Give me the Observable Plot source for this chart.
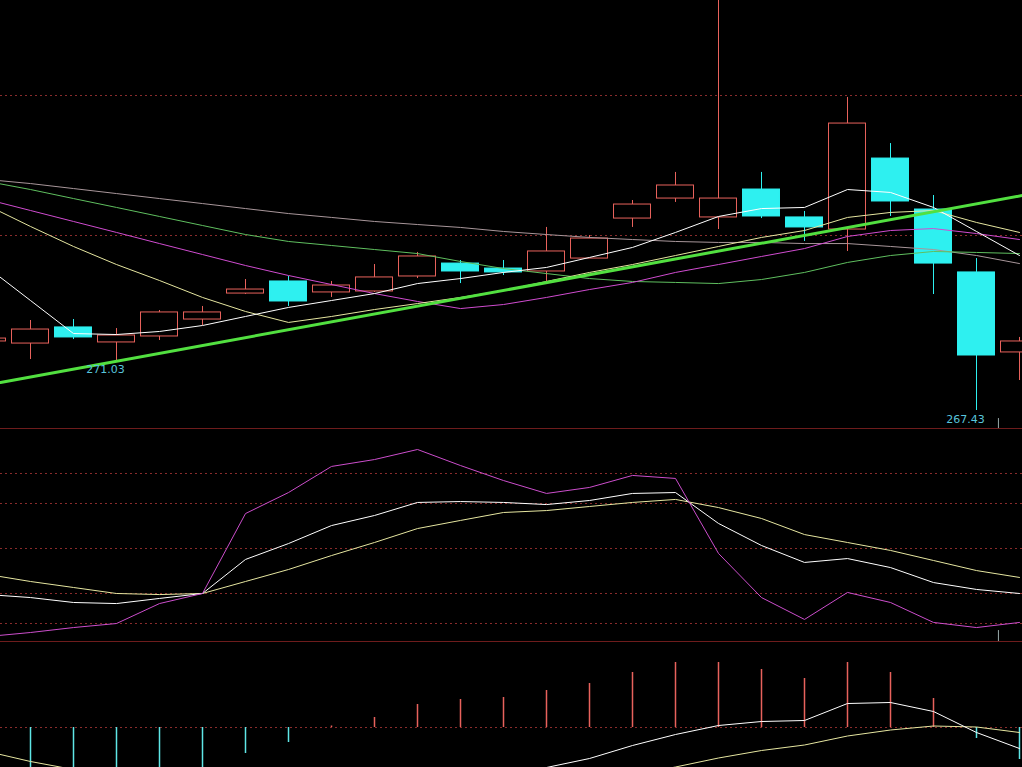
<!DOCTYPE html>
<html><head><meta charset="utf-8">
<script src="https://cdn.jsdelivr.net/npm/d3@7"></script>
<script src="https://cdn.jsdelivr.net/npm/@observablehq/plot@0.6"></script>
<style>
html,body{margin:0;padding:0;background:#000;overflow:hidden;}
#chart svg{display:block;overflow:hidden;}
#chart .sep{border-bottom:1px solid #6e1c1c;}
</style></head><body><div id="chart"></div>
<script>
// ---- data (one entry per trading day, index 0..24) ----
const dayIndex = [0,1,2,3,4,5,6,7,8,9,10,11,12,13,14,15,16,17,18,19,20,21,22,23,24];
const openP  = [272.40,272.25,273.41,272.33,272.76,273.98,275.85,276.72,275.93,276.00,277.08,278.01,277.65,277.44,278.37,281.25,282.69,281.33,283.34,281.33,280.46,285.57,281.90,277.37,271.61];
const highP  = [272.83,273.91,273.98,273.33,274.63,274.92,276.86,277.08,276.72,277.94,278.81,278.23,278.23,280.61,280.03,282.55,284.57,299.80,284.57,281.76,289.97,286.65,282.91,278.37,272.69];
const lowP   = [272.18,271.10,272.54,271.03,272.47,273.55,275.78,274.92,275.57,275.93,276.93,276.57,277.15,276.72,278.37,280.61,282.41,280.46,281.25,279.60,278.88,281.40,275.78,267.43,269.59];
const closeP = [272.61,273.26,272.69,272.83,274.49,274.49,276.14,275.28,276.43,277.01,278.52,277.44,277.37,278.88,279.81,282.26,283.63,282.69,281.40,280.61,288.09,282.48,278.01,271.39,272.40];

const ma5  = [277.73,275.35,272.97,272.90,273.12,273.55,274.20,274.85,275.35,275.85,276.57,276.93,277.37,277.73,278.45,279.17,280.25,281.40,281.97,282.05,283.34,283.13,282.05,280.32,278.59];
const ma10 = [282.19,280.68,279.24,277.94,276.79,275.57,274.56,273.77,274.20,274.70,275.13,275.57,276.07,276.72,277.37,277.94,278.59,279.24,279.89,280.39,281.33,281.69,281.83,280.97,280.25];
const ma20 = [282.62,281.83,281.04,280.25,279.45,278.66,277.87,277.15,276.50,275.85,275.28,274.77,275.06,275.57,276.14,276.65,277.37,277.94,278.52,279.09,279.96,280.39,280.53,280.17,279.74];
const ma30 = [283.92,283.34,282.69,282.05,281.40,280.75,280.10,279.60,279.31,279.02,278.73,278.16,277.65,277.29,276.93,276.72,276.65,276.57,276.86,277.37,278.09,278.59,278.88,278.81,278.73];
const ma60 = [284.06,283.77,283.41,283.05,282.69,282.33,281.97,281.61,281.33,281.04,280.82,280.61,280.32,280.10,279.89,279.74,279.60,279.53,279.53,279.45,279.45,279.24,279.02,278.59,278.01];

const trendIdx = [0.302, 24.07];
const trendVal = [269.45, 282.91];

const lowLabelIdx = [3, 23];
const lowLabelVal = [271.03, 267.43];
const priceGrid = [280.03, 290.11];

const kdjK = [19.3,17.3,14.0,13.3,16.7,20.0,42.7,53.3,65.3,72.0,80.7,81.3,80.7,79.3,82.0,86.7,87.3,66.7,52.0,40.7,43.3,37.3,27.3,22.7,20.0];
const kdjD = [32.7,28.0,24.0,20.0,19.3,20.0,28.0,36.0,45.3,54.0,63.3,68.7,74.0,75.3,78.0,80.7,82.7,77.3,70.0,59.3,54.0,48.7,42.0,35.3,30.7];
const kdjJ = [-8.7,-6.0,-2.7,0.0,13.3,20.0,73.3,87.3,104.7,109.3,116.0,105.3,95.3,86.7,90.7,98.7,96.7,46.7,17.3,2.7,20.7,14.0,0.7,-2.7,0.7];
const kdjGrid = [0, 20, 50, 80, 100];

const macdDif  = [-1.28,-1.43,-1.59,-1.68,-1.70,-1.64,-1.51,-1.43,-1.28,-1.21,-1.08,-1.01,-0.96,-0.80,-0.62,-0.36,-0.14,0.04,0.12,0.14,0.48,0.50,0.32,-0.10,-0.42];
const macdDea  = [-0.48,-0.68,-0.84,-0.98,-1.10,-1.19,-1.25,-1.28,-1.30,-1.31,-1.31,-1.29,-1.26,-1.17,-1.08,-0.95,-0.79,-0.61,-0.46,-0.35,-0.17,-0.05,0.03,0.01,-0.10];
const macdHist = [-1.60,-1.50,-1.50,-1.40,-1.20,-0.90,-0.52,-0.30,0.03,0.20,0.46,0.56,0.60,0.74,0.88,1.10,1.30,1.30,1.16,0.98,1.30,1.10,0.58,-0.22,-0.64];
const macdGrid = [0];

const cursorIdx = 23.51;

// ---- build ----
const RED = "#e8625c", CYAN = "#2ef0f0", GRID = "#8a2c2c";
const xDomain = [13/43, 1035/43];
const candles = dayIndex.map((d, k) => ({i: d, o: openP[k], h: highP[k], l: lowP[k], c: closeP[k], up: closeP[k] >= openP[k]}));
const rows = dayIndex.map((d, k) => ({i: d, ma5: ma5[k], ma10: ma10[k], ma20: ma20[k], ma30: ma30[k], ma60: ma60[k],
  K: kdjK[k], D: kdjD[k], J: kdjJ[k], dif: macdDif[k], dea: macdDea[k], hist: macdHist[k]}));
const trend = trendIdx.map((d, k) => ({i: d, v: trendVal[k]}));
const lowLabels = lowLabelIdx.map((d, k) => ({i: d, v: lowLabelVal[k]}));

function panel(h, yDomain, marks) {
  return Plot.plot({
    width: 1022, height: h, margin: 0,
    style: {background: "#000", fontFamily: "DejaVu Sans", fontSize: "11px"},
    x: {type: "linear", domain: xDomain, axis: null},
    y: {type: "linear", domain: yDomain, axis: null},
    marks
  });
}
const line = (key, color, w = 1) => Plot.line(rows, {x: "i", y: key, stroke: color, strokeWidth: w, clip: true});

const up = candles.filter(d => d.up), down = candles.filter(d => !d.up);
const main = panel(428, [266.134, 296.95], [
  Plot.ruleY(priceGrid, {stroke: GRID, strokeDasharray: "2,3"}),
  Plot.ruleX(candles, {x: "i", y1: "h", y2: d => Math.max(d.o, d.c), stroke: d => d.up ? RED : CYAN, clip: true}),
  Plot.ruleX(candles, {x: "i", y1: d => Math.min(d.o, d.c), y2: "l", stroke: d => d.up ? RED : CYAN, clip: true}),
  Plot.rect(up, {x1: d => d.i - 0.43, x2: d => d.i + 0.43, y1: "o", y2: "c", fill: "none", stroke: RED, clip: true}),
  Plot.rect(down, {x1: d => d.i - 0.43, x2: d => d.i + 0.43, y1: "o", y2: "c", fill: CYAN, stroke: CYAN, clip: true}),
  line("ma60", "#a8969a"),
  line("ma30", "#5fbf5f"),
  line("ma20", "#d04cd0"),
  line("ma10", "#e6e6a0"),
  line("ma5", "#ffffff"),
  Plot.line(trend, {x: "i", y: "v", stroke: "#52e040", strokeWidth: 3, clip: true}),
  Plot.ruleX([cursorIdx], {y1: 266.85, y2: 266.134, stroke: "#9aa"}),
  Plot.text(lowLabels, {x: "i", y: "v", text: d => d.v.toFixed(2), dy: 9, dx: -11, fill: "#58c4dc", fontSize: 11})
]);
main.classList.add("sep");

const kdj = panel(212, [-12, 129.33], [
  Plot.ruleY(kdjGrid, {stroke: GRID, strokeDasharray: "2,3"}),
  line("D", "#e6e6a0"),
  line("K", "#ffffff"),
  line("J", "#cc4ecc"),
  Plot.ruleX([cursorIdx], {y1: -4.7, y2: -12, stroke: "#9aa"})
]);
kdj.classList.add("sep");

const macd = panel(125, [-0.80, 1.70], [
  Plot.ruleY(macdGrid, {stroke: GRID, strokeDasharray: "2,3"}),
  Plot.ruleX(rows, {x: "i", y1: 0, y2: "hist", stroke: d => d.hist >= 0 ? RED : "#5fe6e6", strokeWidth: 1.5, clip: true}),
  line("dea", "#e6e6a0"),
  line("dif", "#ffffff")
]);

const root = document.getElementById("chart");
root.append(main, kdj, macd);
</script>
</body></html>
